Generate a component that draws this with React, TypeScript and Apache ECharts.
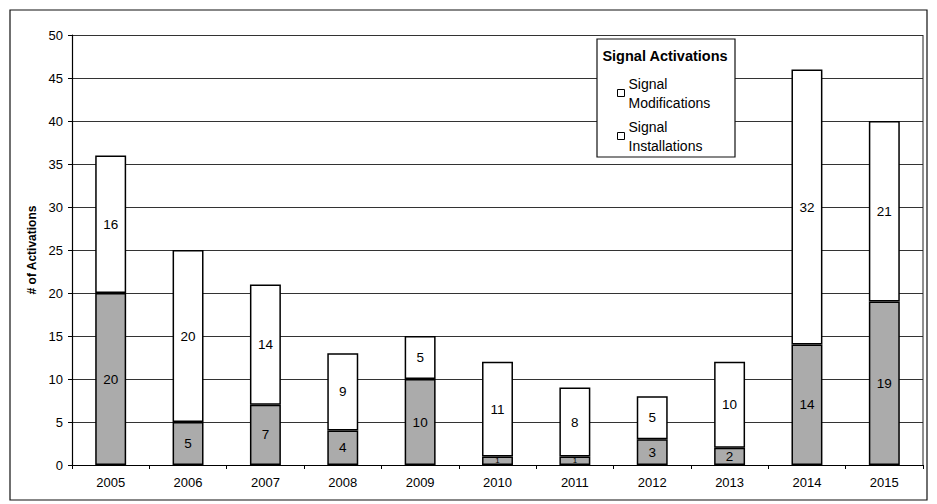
import React, { useEffect, useRef } from "react";
import * as echarts from "echarts";

const years = ["2005", "2006", "2007", "2008", "2009", "2010", "2011", "2012", "2013", "2014", "2015"];
const installations = [20, 5, 7, 4, 10, 1, 1, 3, 2, 14, 19];
const modifications = [16, 20, 14, 9, 5, 11, 8, 5, 10, 32, 21];
const yTicks = { min: 0, max: 50, interval: 5 };
const legendTitle = "Signal Activations";
const seriesNames = ["Signal Installations", "Signal Modifications"];
const legendLabels: Record<string, string> = {
  "Signal Modifications": "Signal\nModifications",
  "Signal Installations": "Signal\nInstallations",
};

const FONT = "'Liberation Sans', Arial, sans-serif";

export default function App() {
  const ref = useRef<HTMLDivElement>(null);
  useEffect(() => {
    if (!ref.current) return;
    const chart = echarts.init(ref.current, null, { renderer: "svg" });
    const lbl = (v: number) =>
      v < 2 ? { show: true, fontSize: 8 } : undefined;
    chart.setOption({
      animation: false,
      backgroundColor: "#ffffff",
      textStyle: { fontFamily: FONT, color: "#000" },
      grid: { left: 72, right: 14, top: 35, bottom: 39 },
      graphic: [
        {
          type: "rect",
          shape: { x: 10, y: 10, width: 917, height: 490 },
          style: { fill: "none", stroke: "#111", lineWidth: 1.2 },
          z: 0,
          silent: true,
        },
        {
          type: "rect",
          shape: { x: 597, y: 39, width: 138, height: 118 },
          style: { fill: "#fff", stroke: "#111", lineWidth: 1.2 },
          z: 10,
          silent: true,
        },
        {
          type: "text",
          x: 665,
          y: 56,
          style: {
            text: legendTitle,
            font: `bold 14.5px ${FONT}`,
            fill: "#000",
            align: "center",
            verticalAlign: "middle",
          },
          z: 11,
          silent: true,
        },
        {
          type: "line",
          shape: { x1: 923, y1: 35, x2: 923, y2: 465 },
          style: { stroke: "#222", lineWidth: 1 },
          z: 5,
          silent: true,
        },
      ],
      legend: {
        orient: "vertical",
        left: 612,
        top: 69,
        itemWidth: 7,
        itemHeight: 7,
        itemGap: 5,
        icon: "rect",
        z: 12,
        data: [
          { name: seriesNames[1], itemStyle: { color: "#fff", borderColor: "#000", borderWidth: 1 } },
          { name: seriesNames[0], itemStyle: { color: "#fff", borderColor: "#000", borderWidth: 1 } },
        ],
        formatter: (n: string) => legendLabels[n] || n,
        textStyle: { fontFamily: FONT, fontSize: 14, color: "#000", lineHeight: 19, padding: [0, 0, 0, -1] },
      },
      xAxis: {
        type: "category",
        data: years,
        axisLine: { show: true, lineStyle: { color: "#000", width: 1.2 } },
        axisTick: { show: true, alignWithLabel: false, length: 4, lineStyle: { color: "#000" } },
        axisLabel: { color: "#000", fontSize: 13, margin: 11, fontFamily: FONT },
      },
      yAxis: {
        type: "value",
        min: yTicks.min,
        max: yTicks.max,
        interval: yTicks.interval,
        name: "# of Activations",
        nameLocation: "middle",
        nameGap: 29,
        nameTextStyle: { fontWeight: "bold", fontSize: 12, color: "#000", fontFamily: FONT },
        axisLine: { show: true, lineStyle: { color: "#000", width: 1.2 } },
        axisTick: { show: true, length: 4, lineStyle: { color: "#000" } },
        axisLabel: { color: "#000", fontSize: 13, margin: 9, fontFamily: FONT },
        splitLine: { show: true, lineStyle: { color: "#333", width: 1 } },
      },
      series: [
        {
          name: seriesNames[0],
          type: "bar",
          stack: "total",
          barWidth: "40%",
          data: installations.map((v) => ({ value: v, label: lbl(v) })),
          itemStyle: { color: "#ababab", borderColor: "#000", borderWidth: 1.5 },
          label: { show: true, position: "inside", color: "#000", fontSize: 13.5, fontFamily: FONT },
        },
        {
          name: seriesNames[1],
          type: "bar",
          stack: "total",
          barWidth: "40%",
          data: modifications,
          itemStyle: { color: "#ffffff", borderColor: "#000", borderWidth: 1.5 },
          label: { show: true, position: "inside", color: "#000", fontSize: 13.5, fontFamily: FONT },
        },
      ],
    });
    return () => chart.dispose();
  }, []);
  return (
    <div
      ref={ref}
      style={{ position: "fixed", left: 0, top: 0, width: 937, height: 504 }}
    />
  );
}
